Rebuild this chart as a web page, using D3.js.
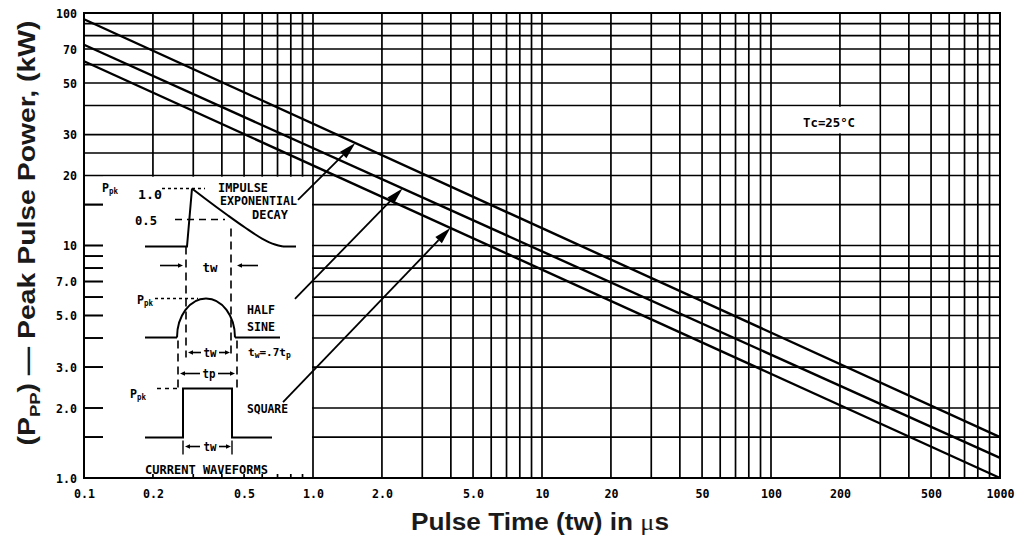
<!DOCTYPE html>
<html><head><meta charset="utf-8">
<script src="https://cdn.jsdelivr.net/npm/d3@7"></script>
<style>
body{margin:0;background:#fff;}
svg{display:block;}
</style></head><body>
<svg id="c" width="1025" height="546"></svg>
<script>
// ---- data ----
const pulseTime = [0.1, 1000];          // µs
const impulseExp = [94, 1.5];           // kW, impulse exponential decay
const halfSine = [73, 1.22];            // kW, half sine
const squareWave = [62, 1.0];           // kW, square
const xTickValues = [0.1,0.2,0.5,1,2,5,10,20,50,100,200,500,1000];
const xTickLabels = ["0.1","0.2","0.5","1.0","2.0","5.0","10","20","50","100","200","500","1000"];
const yTickValues = [1,2,3,5,7,10,20,30,50,70,100];
const yTickLabels = ["1.0","2.0","3.0","5.0","7.0","10","20","30","50","70","100"];
const yGridValues = [1,1.5,2,3,4,5,6,7,8,9,10,15,20,25,30,40,50,60,70,80,90,100];
const arrowTailX = [0.86, 0.834, 0.74];
const arrowTailY = [15.7, 5.89, 2.12];
const arrowTipX = [1.53, 2.46, 3.98];

const MONO = "'DejaVu Sans Mono', 'Liberation Mono', monospace";
const SANS = "'Liberation Sans', Arial, sans-serif";

const svg = d3.select("#c");
const x = d3.scaleLog().domain([0.1, 1000]).range([84, 1000]);
const y = d3.scaleLog().domain([1, 100]).range([478, 13]);

// ---- grid ----
const grid = svg.append("g").attr("stroke", "#000").attr("stroke-width", 1.7);
grid.selectAll("line.v").data(x.ticks()).join("line").attr("class", "v")
  .attr("x1", d => x(d)).attr("x2", d => x(d)).attr("y1", y(100)).attr("y2", y(1));
grid.selectAll("line.h").data(yGridValues).join("line").attr("class", "h")
  .attr("x1", x(0.1)).attr("x2", x(1000)).attr("y1", d => y(d)).attr("y2", d => y(d));

// Tc label box
svg.append("rect").attr("x", x(100) + 1).attr("y", y(40) + 1.2)
  .attr("width", x(300) - x(100) - 2).attr("height", y(30) - y(40) - 2.4).attr("fill", "#fff");
svg.append("text").attr("x", x(138)).attr("y", y(32.3))
  .attr("font-family", MONO).attr("font-weight", "bold").attr("font-size", 13)
  .attr("textLength", 52).attr("lengthAdjust", "spacingAndGlyphs").text("Tc=25°C");

// ---- curves ----
const seriesList = [impulseExp, halfSine, squareWave];
const line = d3.line().x((d, i) => x(pulseTime[i])).y(d => y(d));
svg.selectAll("path.curve").data(seriesList).join("path").attr("class", "curve")
  .attr("d", d => line(d)).attr("fill", "none").attr("stroke", "#000").attr("stroke-width", 2.4);

// ---- inset (current waveforms) ----
const ox = x(0.1), oy = y(20);
svg.append("rect").attr("x", ox + 19).attr("y", oy + 1.2)
  .attr("width", x(1) - 1 - (ox + 19)).attr("height", y(1) - 4 - (oy + 1.2)).attr("fill", "#fff");

// frame
svg.append("rect").attr("x", x(0.1)).attr("y", y(100))
  .attr("width", x(1000) - x(0.1)).attr("height", y(1) - y(100))
  .attr("fill", "none").attr("stroke", "#000").attr("stroke-width", 2);

const ins = svg.append("g").attr("transform", `translate(${ox},${oy})`);
const lin = d3.line();
function pl(pts, w, dash, curve) {
  const p = ins.append("path").attr("d", (curve ? d3.line().curve(curve) : lin)(pts))
    .attr("fill", "none").attr("stroke", "#000").attr("stroke-width", w || 2);
  if (dash) p.attr("stroke-dasharray", dash);
  return p;
}
function arrowHead(g, x1, y1, x2, y2, L, W) {
  const a = Math.atan2(y2 - y1, x2 - x1);
  const bx = x2 - L * Math.cos(a), by = y2 - L * Math.sin(a);
  const px = -Math.sin(a) * W, py = Math.cos(a) * W;
  g.append("path").attr("d", `M${x2},${y2}L${bx + px},${by + py}L${bx - px},${by - py}Z`).attr("fill", "#000");
  return [bx, by];
}
function smallArrow(x1, yy, x2) {
  const [bx] = arrowHead(ins, x1, yy, x2, yy, 5, 2.3);
  pl([[x1, yy], [bx, yy]], 1.6);
}
function monoText(g, tx, ty, str, size, width, anchor) {
  const t = g.append("text").attr("x", tx).attr("y", ty)
    .attr("font-family", MONO).attr("font-weight", "bold").attr("font-size", size).text(str);
  if (width) t.attr("textLength", width).attr("lengthAdjust", "spacingAndGlyphs");
  if (anchor) t.attr("text-anchor", anchor);
  return t;
}
function ppk(tx, ty) {
  const t = ins.append("text").attr("x", tx).attr("y", ty)
    .attr("font-family", MONO).attr("font-weight", "bold").attr("font-size", 12);
  t.append("tspan").text("P").attr("textLength", 7).attr("lengthAdjust", "spacingAndGlyphs");
  t.append("tspan").text("pk").attr("font-size", 8).attr("dy", 2)
    .attr("textLength", 9).attr("lengthAdjust", "spacingAndGlyphs");
}

// impulse exponential decay
pl([[61, 71], [103, 71], [108, 13]], 2);
pl([[108, 13], [121, 23], [144, 40], [161, 52], [178, 63], [191, 69], [199, 71]], 2, null, d3.curveMonotoneX);
pl([[199, 71], [212, 71]], 2);
pl([[78, 13], [121, 13]], 1.5, "3,3");
pl([[91, 44], [141, 44]], 1.6, "7,5");
pl([[102, 71], [102, 182]], 1.6, "8,5");
pl([[147, 53], [147, 182]], 1.6, "8,5");
ppk(18, 16);
monoText(ins, 54, 23, "1.0", 13, 24);
monoText(ins, 51, 49, "0.5", 13, 22);
monoText(ins, 134, 16, "IMPULSE", 12, 50);
monoText(ins, 136, 29, "EXPONENTIAL", 12, 77);
monoText(ins, 168, 43, "DECAY", 12, 36);
// tw arrows
smallArrow(76, 90, 99);
smallArrow(174, 90, 153);
monoText(ins, 126, 96, "tw", 13, 15, "middle");

// half sine
ppk(53, 128);
pl([[71, 123], [114, 123]], 1.5, "3,3");
pl([[61, 162], [93, 162]], 2);
ins.append("path").attr("d", "M93,162 A29,39 0 0 1 151,162").attr("fill", "none")
  .attr("stroke", "#000").attr("stroke-width", 2);
pl([[151, 162], [196, 162]], 2);
monoText(ins, 163, 138, "HALF", 13, 28);
monoText(ins, 163, 155, "SINE", 13, 28);
pl([[94, 165], [94, 212]], 1.6, "8,5");
pl([[153, 165], [153, 212]], 1.6, "8,5");
smallArrow(117, 177, 104);
smallArrow(135, 177, 146);
monoText(ins, 126, 181, "tw", 12, 13, "middle");
(function () {
  const t = ins.append("text").attr("x", 164).attr("y", 180)
    .attr("font-family", MONO).attr("font-weight", "bold").attr("font-size", 11);
  t.append("tspan").text("t");
  t.append("tspan").text("w").attr("font-size", 8).attr("dy", 2);
  t.append("tspan").text("=.7t").attr("dy", -2);
  t.append("tspan").text("p").attr("font-size", 8).attr("dy", 2);
})();
smallArrow(116, 198, 96);
smallArrow(134, 198, 151);
monoText(ins, 125, 202, "tp", 12, 13, "middle");

// square
ppk(46, 222);
pl([[73, 213], [96, 213]], 1.5, "4,4");
pl([[61, 262], [99, 262], [99, 213], [148, 213], [148, 262], [188, 262]], 2);
monoText(ins, 163, 237, "SQUARE", 13, 41);
pl([[99, 265], [99, 279]], 1.4);
pl([[148, 265], [148, 279]], 1.4);
smallArrow(116, 271, 101);
smallArrow(135, 271, 147);
monoText(ins, 126, 275, "tw", 12, 13, "middle");
monoText(ins, 61, 298, "CURRENT WAVEFORMS", 13, 123);

// ---- annotation arrows ----
const seriesAt = (s, tx) => {
  const t = (Math.log10(tx) - Math.log10(pulseTime[0])) / (Math.log10(pulseTime[1]) - Math.log10(pulseTime[0]));
  return Math.pow(10, Math.log10(s[0]) + t * (Math.log10(s[1]) - Math.log10(s[0])));
};
const ann = svg.append("g");
seriesList.forEach((s, i) => {
  const x1 = x(arrowTailX[i]), y1 = y(arrowTailY[i]);
  const x2 = x(arrowTipX[i]), y2 = y(seriesAt(s, arrowTipX[i]));
  const [bx, by] = arrowHead(ann, x1, y1, x2, y2, 17, 4.5);
  ann.append("line").attr("x1", x1).attr("y1", y1).attr("x2", bx).attr("y2", by)
    .attr("stroke", "#000").attr("stroke-width", 1.8);
});

// ---- axes ----
const yAxis = svg.append("g").attr("transform", `translate(${x(0.1)},0)`)
  .call(d3.axisLeft(y).tickValues(yTickValues).tickFormat((d, i) => yTickLabels[i]).tickSize(0).tickPadding(7));
const xAxis = svg.append("g").attr("transform", `translate(0,${y(1)})`)
  .call(d3.axisBottom(x).tickValues(xTickValues).tickFormat((d, i) => xTickLabels[i]).tickSize(0).tickPadding(11));
[yAxis, xAxis].forEach(a => {
  a.select(".domain").remove();
  a.selectAll("text").attr("font-family", MONO).attr("font-weight", "bold").attr("font-size", 13)
    .attr("fill", "#000")
    .attr("textLength", function () { return 7 * this.textContent.length; })
    .attr("lengthAdjust", "spacingAndGlyphs");
});
// short tick stubs inside inset (left side)
svg.append("g").selectAll("line").data(yGridValues.filter(v => v < 20 && v > 1)).join("line")
  .attr("x1", x(0.1)).attr("x2", x(0.1) + 19).attr("y1", d => y(d)).attr("y2", d => y(d))
  .attr("stroke", "#000").attr("stroke-width", 1.7);

// ---- axis titles ----
const xt = svg.append("text").attr("x", 540).attr("y", 530).attr("text-anchor", "middle")
  .attr("font-family", SANS).attr("font-weight", "bold").attr("font-size", 23).attr("fill", "#1a1a1a")
  .attr("textLength", 258).attr("lengthAdjust", "spacingAndGlyphs");
xt.append("tspan").text("Pulse Time (tw) in ");
xt.append("tspan").text("μ").attr("font-family", "'Liberation Serif', serif").attr("font-weight", "normal");
xt.append("tspan").text("s");

const yt = svg.append("text").attr("transform", "translate(35,233) rotate(-90)").attr("text-anchor", "middle")
  .attr("font-family", SANS).attr("font-weight", "bold").attr("font-size", 23).attr("fill", "#1a1a1a")
  .attr("textLength", 425).attr("lengthAdjust", "spacingAndGlyphs");
yt.append("tspan").text("(P");
yt.append("tspan").text("PP").attr("font-size", 15).attr("dy", 5);
yt.append("tspan").text(") — Peak Pulse Power, (kW)").attr("dy", -5);
</script>
</body></html>
